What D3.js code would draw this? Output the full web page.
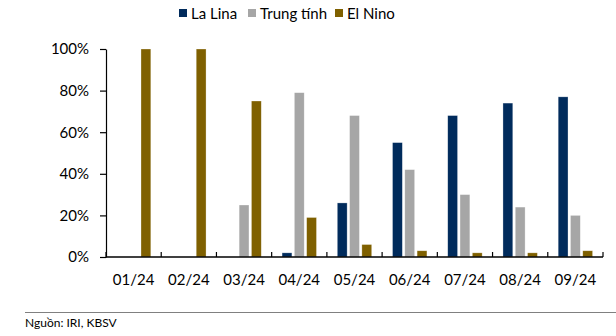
<!DOCTYPE html>
<html>
<head>
<meta charset="utf-8">
<script src="https://cdn.jsdelivr.net/npm/d3@7"></script>
<style>
  html, body { margin: 0; padding: 0; background: #fff; }
  svg { display: block; font-family: Lato, "Open Sans", sans-serif; }
</style>
</head>
<body>
<svg id="chart" width="616" height="336"></svg>
<script>
// ENSO probability by month
const months = ["01/24", "02/24", "03/24", "04/24", "05/24", "06/24", "07/24", "08/24", "09/24"];
const seriesNames = ["La Lina", "Trung tính", "El Nino"];
const laNina  = [0, 0, 0, 2, 26, 55, 68, 74, 77];
const neutral = [0, 0, 25, 79, 68, 42, 30, 24, 20];
const elNino  = [100, 100, 75, 19, 6, 3, 2, 2, 3];
const yTicks = [0, 20, 40, 60, 80, 100];
const colors = ["#002b5c", "#a6a6a6", "#7f6000"];
const sourceNote = "Nguồn: IRI, KBSV";

const seriesValues = [laNina, neutral, elNino];
const rows = months.map((m, i) => ({
  month: m,
  values: seriesNames.map((s, k) => ({ key: s, value: seriesValues[k][i] }))
}));

const svg = d3.select("#chart");
const plotLeft = 106, plotRight = 603, plotTop = 49, plotBottom = 257;

const x = d3.scaleBand().domain(months).range([plotLeft, plotRight]).paddingInner(0).paddingOuter(0);
const xInner = d3.scaleBand().domain(seriesNames)
  .range([10.4, x.bandwidth() - 10.4]).paddingInner(0.2).paddingOuter(0);
const y = d3.scaleLinear().domain([0, 100]).range([plotBottom, plotTop]);

// bars
const groups = svg.append("g").selectAll("g").data(rows).join("g")
  .attr("transform", d => `translate(${x(d.month)},0)`);
groups.selectAll("rect").data(d => d.values).join("rect")
  .attr("x", d => xInner(d.key))
  .attr("width", xInner.bandwidth())
  .attr("y", d => y(d.value))
  .attr("height", d => y(0) - y(d.value))
  .attr("fill", (d, i) => colors[i])
  .attr("stroke", "#ffffff")
  .attr("stroke-opacity", 0.5)
  .attr("stroke-width", 0.6);

// y axis
const yAxis = svg.append("g").attr("transform", `translate(${plotLeft},0)`)
  .call(d3.axisLeft(y).tickValues(yTicks).tickFormat(d => d + "%").tickSize(6).tickSizeOuter(0));
yAxis.select(".domain").attr("stroke", "#000").attr("stroke-width", 1.2);
yAxis.selectAll(".tick line").attr("stroke", "#000").attr("stroke-width", 1.2);
yAxis.selectAll(".tick text").attr("font-size", 15).attr("font-family", "Lato, sans-serif")
  .attr("fill", "#000").attr("x", -17);

// x axis with boundary ticks pointing upward
const xAxis = svg.append("g").attr("transform", `translate(0,${plotBottom})`);
xAxis.append("line").attr("x1", plotLeft).attr("x2", plotRight).attr("stroke", "#000").attr("stroke-width", 1.4);
const bounds = months.map(m => x(m)).concat([plotRight]);
xAxis.selectAll("line.b").data(bounds).join("line").attr("class", "b")
  .attr("x1", d => d).attr("x2", d => d).attr("y1", 0).attr("y2", -5)
  .attr("stroke", "#000").attr("stroke-width", 1.2);
xAxis.selectAll("text").data(months).join("text")
  .attr("x", d => x(d) + x.bandwidth() / 2)
  .attr("y", 28)
  .attr("text-anchor", "middle")
  .attr("font-size", 15)
  .attr("fill", "#000")
  .text(d => d);

// legend
const legendX = [179, 248, 335];
const legend = svg.append("g").selectAll("g").data(seriesNames).join("g")
  .attr("transform", (d, i) => `translate(${legendX[i]},0)`);
legend.append("rect").attr("x", 0).attr("y", 9).attr("width", 8).attr("height", 8)
  .attr("fill", (d, i) => colors[i]);
legend.append("text").attr("x", 12).attr("y", 18.5).attr("font-size", 15)
  .attr("fill", "#000").text(d => d);

// source footer
svg.append("line").attr("x1", 25).attr("x2", 616).attr("y1", 312.5).attr("y2", 312.5)
  .attr("stroke", "#808080").attr("stroke-width", 1);
svg.append("text").attr("x", 25).attr("y", 327).attr("font-size", 12).attr("fill", "#000")
  .text(sourceNote);
</script>
</body>
</html>
